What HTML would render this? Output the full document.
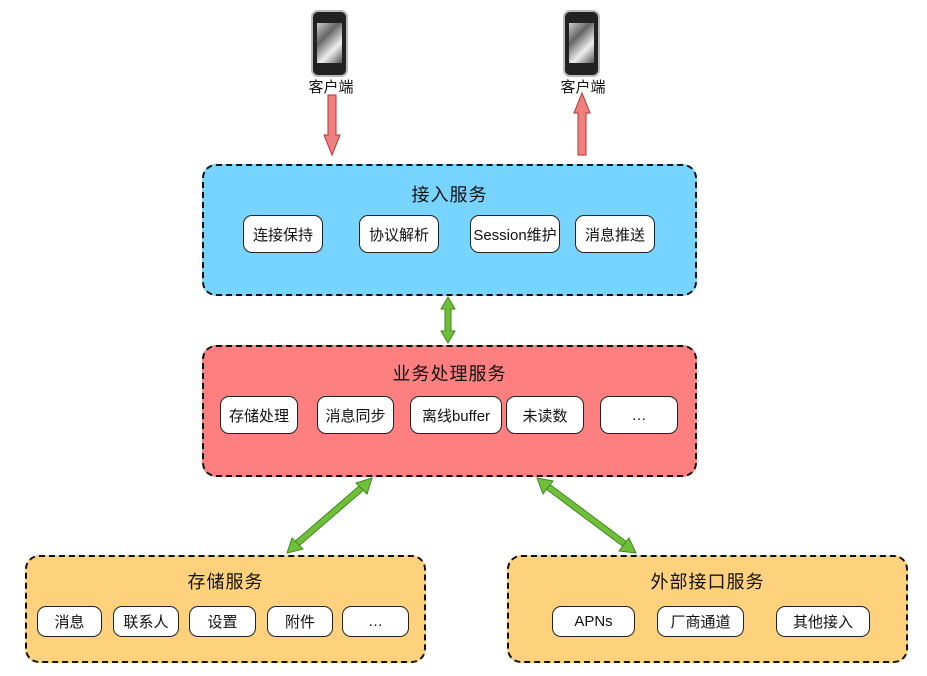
<!DOCTYPE html>
<html><head><meta charset="utf-8"><style>
body{margin:0;width:927px;height:676px;background:#fff;position:relative;overflow:hidden;font-family:"Liberation Sans","Noto Sans CJK SC",sans-serif;}
.box{position:absolute;border:2px dashed #111;border-radius:14px;box-sizing:border-box;}
.t{position:absolute;left:0;right:0;text-align:center;font-size:18px;color:#111;letter-spacing:1px;}
.i{position:absolute;background:#fff;border:1.5px solid #222;border-radius:9px;box-sizing:border-box;text-align:center;font-size:15px;color:#111;display:flex;align-items:center;justify-content:center;}
.lbl{position:absolute;font-family:"Noto Sans CJK SC",sans-serif;font-size:15px;color:#111;width:70px;text-align:center;white-space:nowrap;}
.ph{position:absolute;width:37px;height:67px;border-radius:7px;background:#222;border:2px solid #bbb;box-sizing:border-box;}
.ph div{position:absolute;left:4px;right:4px;top:11px;bottom:12px;background:linear-gradient(135deg,#ccc,#666,#eee,#555);}
</style></head><body>
<div class="ph" style="left:311px;top:10px"><div></div></div>
<div class="ph" style="left:563px;top:10px"><div></div></div>
<div class="lbl" style="left:296px;top:76px">客户端</div>
<div class="lbl" style="left:548px;top:76px">客户端</div>

<div class="box" style="left:202px;top:164px;width:495px;height:132px;background:#76d4fe">
<div class="t" style="top:15px">接入服务</div></div>
<div class="i" style="left:243px;top:215px;width:80px;height:38px">连接保持</div>
<div class="i" style="left:359px;top:215px;width:80px;height:38px">协议解析</div>
<div class="i" style="left:470px;top:215px;width:90px;height:38px">Session维护</div>
<div class="i" style="left:575px;top:215px;width:80px;height:38px">消息推送</div>

<div class="box" style="left:202px;top:345px;width:495px;height:132px;background:#fe7f7f">
<div class="t" style="top:13px">业务处理服务</div></div>
<div class="i" style="left:220px;top:396px;width:78px;height:38px">存储处理</div>
<div class="i" style="left:317px;top:396px;width:77px;height:38px">消息同步</div>
<div class="i" style="left:410px;top:396px;width:92px;height:38px">离线buffer</div>
<div class="i" style="left:506px;top:396px;width:78px;height:38px">未读数</div>
<div class="i" style="left:600px;top:396px;width:78px;height:38px">…</div>

<div class="box" style="left:25px;top:555px;width:401px;height:108px;background:#fed27d">
<div class="t" style="top:11px">存储服务</div></div>
<div class="i" style="left:37px;top:606px;width:65px;height:31px">消息</div>
<div class="i" style="left:113px;top:606px;width:66px;height:31px">联系人</div>
<div class="i" style="left:189px;top:606px;width:67px;height:31px">设置</div>
<div class="i" style="left:267px;top:606px;width:66px;height:31px">附件</div>
<div class="i" style="left:342px;top:606px;width:67px;height:31px">…</div>

<div class="box" style="left:507px;top:555px;width:401px;height:108px;background:#fed27d">
<div class="t" style="top:11px">外部接口服务</div></div>
<div class="i" style="left:552px;top:606px;width:83px;height:31px">APNs</div>
<div class="i" style="left:657px;top:606px;width:87px;height:31px">厂商通道</div>
<div class="i" style="left:776px;top:606px;width:94px;height:31px">其他接入</div>

<svg width="927" height="676" style="position:absolute;left:0;top:0">
<polygon points="328,95 336,95 336,135 340,135 332,155 324,135 328,135" fill="#ef8080" stroke="#c0302a" stroke-width="1"/>
<polygon points="578,155 586,155 586,113 590,113 582,93 574,113 578,113" fill="#ef8080" stroke="#c0302a" stroke-width="1"/>
<polygon points="448,297 455,309 451,309 451,331 455,331 448,343 441,331 445,331 445,309 441,309" fill="#6fbf3a" stroke="#3f8a1c" stroke-width="1"/>
<g stroke="#3f8a1c" fill="#6fbf3a">
<line x1="366" y1="484" x2="293" y2="547" stroke="#3f8a1c" stroke-width="7"/>
<line x1="366" y1="484" x2="293" y2="547" stroke="#6fbf3a" stroke-width="5"/>
<polygon points="372,478 356,483 367,494"/>
<polygon points="287,553 292,538 303,549"/>
<line x1="543" y1="483" x2="630" y2="548" stroke="#3f8a1c" stroke-width="7"/>
<line x1="543" y1="483" x2="630" y2="548" stroke="#6fbf3a" stroke-width="5"/>
<polygon points="537,478 553,481 543,494"/>
<polygon points="636,553 619,551 629,538"/>
</g>
</svg>
</body></html>
